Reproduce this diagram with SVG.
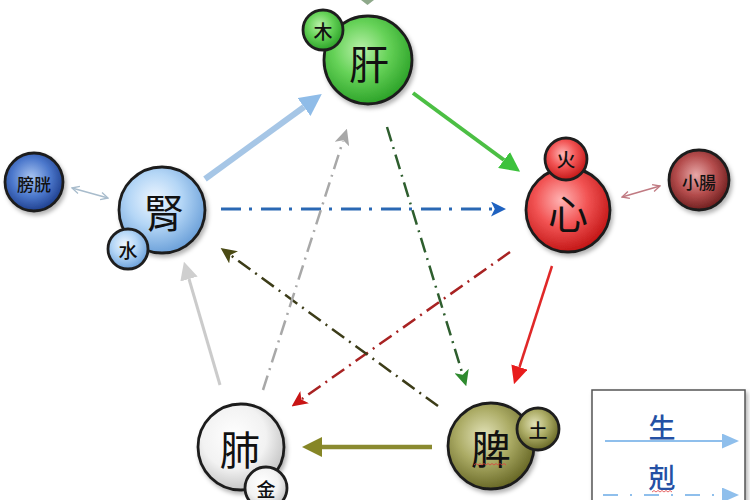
<svg xmlns="http://www.w3.org/2000/svg" width="750" height="500" viewBox="0 0 750 500">
<defs>
<style>
.ol{stroke:#1e1e1e;stroke-width:2.8}
.big{font-family:"Noto Sans CJK TC","Noto Sans CJK SC",sans-serif;font-size:40px;fill:#111;text-anchor:middle;dominant-baseline:central}
.sm{font-family:"Noto Sans CJK TC","Noto Sans CJK SC",sans-serif;font-size:19px;fill:#111;text-anchor:middle;dominant-baseline:central;font-weight:500}
.fu{font-family:"Noto Sans CJK TC","Noto Sans CJK SC",sans-serif;font-size:17px;fill:#111;text-anchor:middle;dominant-baseline:central;font-weight:500}
.lg{font-family:"Noto Sans CJK TC","Noto Sans CJK SC",sans-serif;font-size:27px;fill:#2450a4;text-anchor:middle;dominant-baseline:central;font-weight:500}
.dd{stroke-dasharray:15 6 2 6;fill:none;stroke-width:2.5}
</style>
<filter id="sh" x="-30%" y="-30%" width="160%" height="160%"><feDropShadow dx="2" dy="3" stdDeviation="2" flood-color="#000" flood-opacity="0.3"/></filter>
<radialGradient id="gG" cx="0.42" cy="0.38" r="0.62"><stop offset="0" stop-color="#b8f0a8"/><stop offset="0.5" stop-color="#66d258"/><stop offset="1" stop-color="#2ea42a"/></radialGradient>
<radialGradient id="gR" cx="0.42" cy="0.38" r="0.62"><stop offset="0" stop-color="#ffb4b4"/><stop offset="0.5" stop-color="#f25454"/><stop offset="1" stop-color="#c41818"/></radialGradient>
<radialGradient id="gDR" cx="0.45" cy="0.42" r="0.6"><stop offset="0" stop-color="#e8a8a8"/><stop offset="0.55" stop-color="#b44c4c"/><stop offset="1" stop-color="#6a1c1c"/></radialGradient>
<radialGradient id="gLB" cx="0.42" cy="0.38" r="0.62"><stop offset="0" stop-color="#eef6ff"/><stop offset="0.5" stop-color="#b4d6f6"/><stop offset="1" stop-color="#6ea2da"/></radialGradient>
<radialGradient id="gB" cx="0.45" cy="0.42" r="0.6"><stop offset="0" stop-color="#a8c4f0"/><stop offset="0.55" stop-color="#4c78cc"/><stop offset="1" stop-color="#1c3c8a"/></radialGradient>
<radialGradient id="gW" cx="0.42" cy="0.38" r="0.62"><stop offset="0" stop-color="#ffffff"/><stop offset="0.6" stop-color="#f2f2f2"/><stop offset="1" stop-color="#c6c6c6"/></radialGradient>
<radialGradient id="gO" cx="0.42" cy="0.38" r="0.62"><stop offset="0" stop-color="#e2e2b8"/><stop offset="0.5" stop-color="#acac66"/><stop offset="1" stop-color="#6a6a28"/></radialGradient>
<marker id="mLB" viewBox="0 0 10 10" refX="0" refY="5" markerWidth="22" markerHeight="22" markerUnits="userSpaceOnUse" orient="auto" preserveAspectRatio="none"><path d="M0,0 L10,5 L0,10 z" fill="#8fbce8"/></marker>
<marker id="mG" viewBox="0 0 10 10" refX="0" refY="5" markerWidth="20" markerHeight="20" markerUnits="userSpaceOnUse" orient="auto" preserveAspectRatio="none"><path d="M0,0 L10,5 L0,10 z" fill="#3cc23c"/></marker>
<marker id="mR" viewBox="0 0 10 10" refX="0" refY="5" markerWidth="18" markerHeight="17" markerUnits="userSpaceOnUse" orient="auto" preserveAspectRatio="none"><path d="M0,0 L10,5 L0,10 z" fill="#e81c1c"/></marker>
<marker id="mO" viewBox="0 0 10 10" refX="0" refY="5" markerWidth="20" markerHeight="20" markerUnits="userSpaceOnUse" orient="auto" preserveAspectRatio="none"><path d="M0,0 L10,5 L0,10 z" fill="#868626"/></marker>
<marker id="mGr" viewBox="0 0 10 10" refX="0" refY="5" markerWidth="18" markerHeight="18" markerUnits="userSpaceOnUse" orient="auto" preserveAspectRatio="none"><path d="M0,0 L10,5 L0,10 z" fill="#cfcfcf"/></marker>
<marker id="mBd" viewBox="0 0 10 10" refX="2" refY="5" markerWidth="15" markerHeight="15" markerUnits="userSpaceOnUse" orient="auto" preserveAspectRatio="none"><path d="M0,0 L10,5 L0,10 L2.5,5 z" fill="#1f62c0"/></marker>
<marker id="mDG" viewBox="0 0 10 10" refX="2" refY="5" markerWidth="16" markerHeight="15" markerUnits="userSpaceOnUse" orient="auto" preserveAspectRatio="none"><path d="M0,0 L10,5 L0,10 L2.5,5 z" fill="#2e8a2e"/></marker>
<marker id="mDR" viewBox="0 0 10 10" refX="2" refY="5" markerWidth="16" markerHeight="15" markerUnits="userSpaceOnUse" orient="auto" preserveAspectRatio="none"><path d="M0,0 L10,5 L0,10 L2.5,5 z" fill="#c81414"/></marker>
<marker id="mDO" viewBox="0 0 10 10" refX="2" refY="5" markerWidth="16" markerHeight="15" markerUnits="userSpaceOnUse" orient="auto" preserveAspectRatio="none"><path d="M0,0 L10,5 L0,10 L2.5,5 z" fill="#4a4a14"/></marker>
<marker id="mDGr" viewBox="0 0 10 10" refX="2" refY="5" markerWidth="16" markerHeight="15" markerUnits="userSpaceOnUse" orient="auto" preserveAspectRatio="none"><path d="M0,0 L10,5 L0,10 L2.5,5 z" fill="#a8a8a8"/></marker>
<marker id="mSmB" viewBox="0 0 10 10" refX="9" refY="5" markerWidth="9" markerHeight="9" markerUnits="userSpaceOnUse" orient="auto-start-reverse"><path d="M1,1 L9,5 L1,9" fill="none" stroke="#a8bccc" stroke-width="1.5"/></marker>
<marker id="mSmR" viewBox="0 0 10 10" refX="9" refY="5" markerWidth="9" markerHeight="9" markerUnits="userSpaceOnUse" orient="auto-start-reverse"><path d="M1,1 L9,5 L1,9" fill="none" stroke="#c07a82" stroke-width="1.5"/></marker>
<marker id="mLeg" viewBox="0 0 10 10" refX="0" refY="5" markerWidth="17" markerHeight="15" markerUnits="userSpaceOnUse" orient="auto" preserveAspectRatio="none"><path d="M0,0 L10,5 L0,10 z" fill="#8fbfec"/></marker>
</defs>
<rect width="750" height="500" fill="#ffffff"/>

<g id="connectors">
  <line x1="205" y1="179" x2="304" y2="107" stroke="#a6c6e6" stroke-width="6" marker-end="url(#mLB)"/>
  <line x1="413" y1="93" x2="504" y2="160" stroke="#4cbf44" stroke-width="4" marker-end="url(#mG)"/>
  <line x1="552" y1="266" x2="519.5" y2="367" stroke="#e02828" stroke-width="2.5" marker-end="url(#mR)"/>
  <line x1="432" y1="447" x2="322" y2="447" stroke="#8a8a30" stroke-width="4.5" marker-end="url(#mO)"/>
  <line x1="220" y1="385" x2="189" y2="279" stroke="#cbcbcb" stroke-width="3" marker-end="url(#mGr)"/>
  <line x1="221" y1="209" x2="494" y2="209" stroke="#2a68b4" stroke-width="3" stroke-dasharray="20 8 3 9" marker-end="url(#mBd)"/>
  <line x1="387" y1="127" x2="462.5" y2="374" class="dd" stroke="#2e5e2e" marker-end="url(#mDG)"/>
  <line x1="510" y1="252" x2="302" y2="399" class="dd" stroke="#a82222" marker-end="url(#mDR)"/>
  <line x1="438" y1="406" x2="231" y2="255.5" class="dd" stroke="#3c3c18" marker-end="url(#mDO)"/>
  <line x1="263" y1="390" x2="343" y2="141" class="dd" stroke="#a8a8a8" marker-end="url(#mDGr)"/>
  <line x1="72" y1="188" x2="108" y2="198" stroke="#a8bccc" stroke-width="1.5" marker-start="url(#mSmB)" marker-end="url(#mSmB)"/>
  <line x1="622" y1="197" x2="660" y2="186" stroke="#c07a82" stroke-width="1.5" marker-start="url(#mSmR)" marker-end="url(#mSmR)"/>
  <polygon points="361,0 374,0 367.5,5" fill="#8ea88a"/>
</g>

<g id="gan">
  <circle cx="368" cy="60" r="44" fill="url(#gG)" class="ol" filter="url(#sh)"/>
  <text x="369" y="62" class="big">肝</text>
  <circle cx="323" cy="30" r="20" fill="url(#gG)" class="ol"/>
  <text x="323" y="30" class="sm">木</text>
</g>

<g id="xin">
  <circle cx="568" cy="210" r="42" fill="url(#gR)" class="ol" filter="url(#sh)"/>
  <text x="568" y="212" class="big">心</text>
  <circle cx="566" cy="159" r="21" fill="url(#gR)" class="ol"/>
  <text x="566" y="158" class="sm">火</text>
</g>

<g id="xiaochang">
  <circle cx="699" cy="180" r="30" fill="url(#gDR)" class="ol" filter="url(#sh)"/>
  <text x="699" y="181" class="fu">小腸</text>
</g>

<g id="shen">
  <circle cx="162" cy="210" r="43" fill="url(#gLB)" class="ol" filter="url(#sh)"/>
  <text x="164" y="211" class="big">腎</text>
  <circle cx="128" cy="249" r="20" fill="url(#gLB)" class="ol"/>
  <text x="128" y="249" class="sm">水</text>
</g>

<g id="pangguang">
  <circle cx="34" cy="182" r="29" fill="url(#gB)" class="ol" filter="url(#sh)"/>
  <text x="34" y="183" class="fu">膀胱</text>
</g>

<g id="fei">
  <circle cx="241" cy="447" r="43" fill="url(#gW)" class="ol" filter="url(#sh)"/>
  <text x="240" y="448" class="big">肺</text>
  <circle cx="266" cy="488" r="21" fill="url(#gW)" class="ol"/>
  <text x="266" y="488" class="sm">金</text>
</g>

<g id="pi">
  <circle cx="491" cy="446" r="43" fill="url(#gO)" class="ol" filter="url(#sh)"/>
  <text x="491" y="447" class="big">脾</text>
  <path d="M474,465 l2,-1.5 2,1.5 2,-1.5 2,1.5 2,-1.5 2,1.5 2,-1.5 2,1.5 2,-1.5 2,1.5 2,-1.5 2,1.5 2,-1.5 2,1.5 2,-1.5 2,1.5" fill="none" stroke="#e04040" stroke-width="0.8"/>
  <circle cx="538" cy="429" r="21" fill="url(#gO)" class="ol"/>
  <text x="538" y="429" class="sm">土</text>
</g>

<g id="legend">
  <rect x="592" y="390" width="153" height="120" fill="#ffffff" stroke="#555" stroke-width="1.5" filter="url(#sh)"/>
  <text x="662" y="426" class="lg">生</text>
  <line x1="605" y1="441" x2="722" y2="441" stroke="#8fbfec" stroke-width="2" marker-end="url(#mLeg)"/>
  <text x="662" y="476" class="lg">剋</text>
  <path d="M652,492 l2,-1.5 2,1.5 2,-1.5 2,1.5 2,-1.5 2,1.5 2,-1.5 2,1.5 2,-1.5 2,1.5" fill="none" stroke="#e04040" stroke-width="0.8"/>
  <line x1="603" y1="495" x2="722" y2="495" stroke="#8fbfec" stroke-width="2" stroke-dasharray="15 12 2 12" marker-end="url(#mLeg)"/>
</g>
</svg>
